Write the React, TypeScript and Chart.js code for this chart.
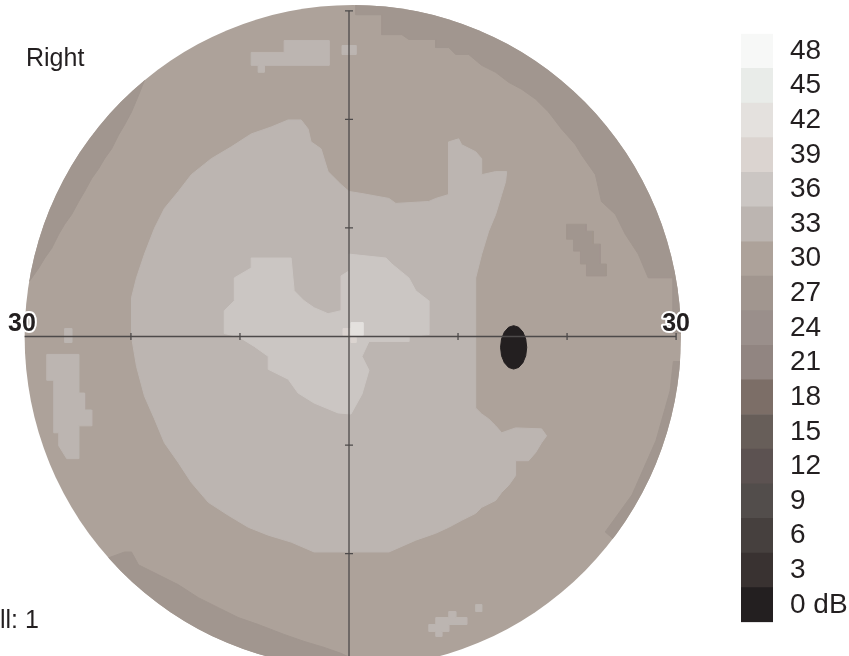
import { useEffect, useRef } from 'react';
import { Chart, registerables } from 'chart.js';

Chart.register(...registerables);

// ---------- legend / colour scale ----------
const LEGEND_LEVELS = [48, 45, 42, 39, 36, 33, 30, 27, 24, 21, 18, 15, 12, 9, 6, 3, 0];
const LEGEND_COLORS = [
  '#f7f8f7', '#e9ece9', '#e4e1de', '#dbd4d0', '#cbc6c3', '#bcb5b1', '#ada29a',
  '#a1968f', '#9a8f8b', '#918581', '#7c6e67', '#675e59', '#5c5251', '#524d4b',
  '#46403e', '#393231', '#231f20',
];
const LEGEND_UNIT = 'dB';

// ---------- texts ----------
const EYE_LABEL = 'Right';
const FOOT_LABEL = 'll: 1';
const AXIS_LIMIT = 30;
const AXIS_TICKS = [-30, -20, -10, 10, 20, 30];

// ---------- grey-scale regions (degrees of visual field) ----------
const FIELD: number[][] = [[-31, -31], [31, -31], [31, 31], [-31, 31]];

const BAND_UPPER_LEFT: number[][] = [
  [-18.76, 23.6], [-19.3, 22.23], [-19.95, 20.68], [-20.59, 19.49], [-21.13, 18.57],
  [-21.77, 17.29], [-22.42, 16.38], [-22.96, 15.46], [-23.6, 14.55], [-24.25, 13.36],
  [-24.79, 12.44], [-25.43, 11.25], [-26.08, 10.34], [-26.62, 9.42], [-27.26, 8.14],
  [-27.9, 7.23], [-28.45, 6.31], [-29.09, 5.4], [-29.64, 4.67], [-33, 4.2], [-31, 15],
  [-26, 24], [-20, 28],
];

const BAND_UPPER_RIGHT: number[][] = [
  [0.64, 31.5], [0.64, 29.64], [3.02, 29.64], [3.02, 27.81], [4.85, 27.81], [5.49, 27.36],
  [7.96, 27.36], [7.96, 26.62], [9.15, 26.62], [9.79, 25.98], [10.98, 25.98], [12.17, 24.98],
  [13.45, 24.34], [14.64, 23.42], [15.83, 22.78], [17.11, 21.87], [18.3, 20.68], [19.49, 19.12],
  [20.77, 17.66], [21.32, 16.74], [22.6, 14.91], [23.15, 12.44], [24.43, 11.25], [25.34, 9.42],
  [26.53, 7.59], [27.45, 5.4], [29.73, 5.4], [29.73, 0.27], [34, 0.27], [29.4, 17], [17, 29.4],
  [1.2, 34],
];

const STREAK_UPPER_RIGHT: number[][] = [
  [19.95, 10.34], [21.78, 10.34], [21.78, 9.7], [22.42, 9.7], [22.42, 8.51], [23.06, 8.51],
  [23.06, 6.68], [23.6, 6.68], [23.6, 5.58], [21.78, 5.58], [21.78, 6.68], [21.23, 6.68],
  [21.23, 7.87], [20.59, 7.87], [20.59, 8.97], [19.95, 8.97],
];

const BAND_RIGHT: number[][] = [
  [29.75, -2.3], [29.45, -5.0], [28.15, -9.6], [25.95, -14.6], [23.5, -18.0], [26.8, -20.9],
  [32, -11.6], [33.9, -2.4],
];

const BAND_LOWER_LEFT: number[][] = [
  [-22.6, -20.6], [-20.59, -19.85], [-19.95, -19.85], [-19.3, -21.04], [-17.47, -21.96],
  [-15.65, -22.87], [-13.82, -24.06], [-11.99, -24.98], [-10.16, -25.89], [-8.33, -26.53],
  [-5.95, -27.45], [-4.12, -28.09], [-2.29, -28.64], [-0.73, -29.19], [0.64, -29.83],
  [1, -34], [-12, -32], [-20, -28], [-24.5, -23],
];

const LIGHT_ZONE: number[][] = [
  [-5.58, 19.95], [-7.14, 19.3], [-8.97, 18.66], [-10.8, 17.47], [-12.63, 16.38], [-14.46, 14.91],
  [-15.65, 13.36], [-16.93, 11.8], [-17.84, 9.97], [-18.76, 7.59], [-19.49, 5.4], [-19.95, 3.57],
  [-19.95, 0], [-19.49, -2.74], [-18.76, -5.49], [-17.84, -7.59], [-16.93, -9.79], [-15.65, -11.62],
  [-14.46, -13.45], [-12.9, -15.28], [-11.07, -16.47], [-9.24, -17.57], [-7.41, -18.3],
  [-5.31, -18.94], [-3.2, -19.85], [3.66, -19.85], [6.13, -18.76], [7.96, -18.12], [9.15, -17.57],
  [10.34, -16.93], [11.62, -16.29], [12.17, -15.74], [13.45, -15.1], [14.0, -14.36],
  [14.64, -13.72], [15.28, -12.81], [15.28, -11.44], [16.47, -11.44], [17.11, -10.7],
  [17.66, -9.79], [18.12, -9.15], [17.66, -8.51], [15.28, -8.42], [14.0, -8.87], [13.45, -8.23],
  [12.81, -7.59], [12.17, -7.14], [11.62, -6.59], [11.62, 5.4], [12.17, 7.59], [12.81, 9.7],
  [13.45, 11.25], [14.0, 13.08], [14.36, 14.27], [14.46, 15.19], [13.45, 15.19], [12.17, 14.91],
  [12.17, 16.38], [11.62, 17.02], [10.34, 17.66], [10.06, 18.21], [9.15, 17.93], [9.15, 13.08],
  [7.96, 12.72], [7.32, 12.44], [4.3, 12.26], [3.66, 12.72], [1.19, 13.17], [0, 13.36],
  [-0.73, 14.0], [-1.92, 15.19], [-2.56, 17.29], [-3.48, 17.93], [-3.75, 19.12], [-4.39, 19.95],
];

const INNER_ZONE: number[][] = [
  [-8.97, 7.23], [-5.31, 7.23], [-5.03, 4.21], [-4.12, 3.29], [-3.2, 2.65], [-1.92, 2.1],
  [-0.73, 2.38], [-0.73, 5.58], [0, 6.04], [0, 7.59], [3.39, 7.23], [3.93, 6.68], [5.49, 5.4],
  [6.13, 4.21], [7.32, 3.29], [7.32, 0.18], [5.49, 0], [5.49, -0.46], [1.83, -0.46],
  [1.19, -1.83], [1.83, -3.11], [1.19, -5.31], [0.18, -7.14], [-1.01, -7.04], [-3.2, -6.13],
  [-4.67, -5.21], [-5.58, -3.93], [-7.41, -3.02], [-7.41, -1.83], [-8.69, -0.91], [-10.16, 0],
  [-11.44, 0.27], [-11.44, 2.38], [-10.52, 3.29], [-10.52, 5.4], [-8.97, 6.31],
];

const CENTRE_BRIGHT: number[][] = [[0.18, 1.28], [1.28, 1.28], [1.28, 0.09], [0.18, 0.09]];
const CENTRE_LEFT: number[][] = [[-0.55, 0.73], [0.18, 0.73], [0.18, 0.09], [-0.55, 0.09]];
const CENTRE_BELOW: number[][] = [[0.18, -0.09], [0.64, -0.09], [0.64, -0.55], [0.18, -0.55]];

const PATCH_TOP: number[][] = [
  [-8.97, 26.17], [-5.95, 26.17], [-5.95, 27.26], [-1.83, 27.26], [-1.83, 24.98], [-7.78, 24.98],
  [-7.78, 24.34], [-8.33, 24.34], [-8.33, 24.98], [-8.97, 24.98],
];
const PATCH_TOP_DOT: number[][] = [[-0.64, 26.81], [0.64, 26.81], [0.64, 25.98], [-0.64, 25.98]];
const PATCH_LEFT: number[][] = [
  [-27.72, -1.65], [-24.79, -1.65], [-24.79, -5.21], [-24.25, -5.21], [-24.25, -6.77],
  [-23.6, -6.77], [-23.6, -8.23], [-24.79, -8.23], [-24.79, -11.25], [-25.89, -11.25],
  [-26.62, -10.06], [-26.62, -8.87], [-27.08, -8.87], [-27.08, -4.03], [-27.72, -4.03],
];
const PATCH_LEFT_DOT: number[][] = [[-26.08, 0.73], [-25.43, 0.73], [-25.43, -0.55], [-26.08, -0.55]];
const PATCH_LOWER_RIGHT: number[][] = [
  [9.15, -25.34], [9.79, -25.34], [9.79, -25.89], [10.8, -25.89], [10.8, -26.53], [9.15, -26.53],
  [9.15, -27.17], [8.51, -27.17], [8.51, -27.63], [7.96, -27.63], [7.96, -27.17], [7.32, -27.17],
  [7.32, -26.53], [7.96, -26.53], [7.96, -25.89], [9.15, -25.89],
];
const PATCH_LOWER_RIGHT_DOT: number[][] = [[11.62, -24.7], [12.17, -24.7], [12.17, -25.34], [11.62, -25.34]];

const BLIND_SPOT: number[][] = [
  [16.3, -1.0], [16.21, -0.23], [15.95, 0.41], [15.56, 0.85], [15.1, 1.0], [14.64, 0.85],
  [14.25, 0.41], [13.99, -0.23], [13.9, -1.0], [13.99, -1.77], [14.25, -2.41], [14.64, -2.85],
  [15.1, -3.0], [15.56, -2.85], [15.95, -2.41], [16.21, -1.77],
];

// drawing order bottom -> top, with the dB level of each region
const LAYERS: { level: number; pts: number[][] }[] = [
  { level: 30, pts: FIELD },
  { level: 27, pts: BAND_UPPER_LEFT },
  { level: 27, pts: BAND_UPPER_RIGHT },
  { level: 27, pts: STREAK_UPPER_RIGHT },
  { level: 27, pts: BAND_RIGHT },
  { level: 27, pts: BAND_LOWER_LEFT },
  { level: 33, pts: PATCH_TOP },
  { level: 33, pts: PATCH_TOP_DOT },
  { level: 33, pts: PATCH_LEFT },
  { level: 33, pts: PATCH_LEFT_DOT },
  { level: 33, pts: PATCH_LOWER_RIGHT },
  { level: 33, pts: PATCH_LOWER_RIGHT_DOT },
  { level: 33, pts: LIGHT_ZONE },
  { level: 36, pts: INNER_ZONE },
  { level: 39, pts: CENTRE_LEFT },
  { level: 39, pts: CENTRE_BELOW },
  { level: 42, pts: CENTRE_BRIGHT },
  { level: 0, pts: BLIND_SPOT },
];

const FONT = '"Liberation Sans", Arial, Helvetica, sans-serif';
const AXIS_COLOR = '#4d4a4a';
const TEXT_COLOR = '#231f20';
const CLIP_CENTER = 0.35;
const CLIP_RX = 30.1;
const CLIP_RY = 30.55;
const SCALE_SPAN = 31;

const colorOf = (level: number) => LEGEND_COLORS[LEGEND_LEVELS.indexOf(level)];

export default function App() {
  const mapRef = useRef<HTMLCanvasElement>(null);
  const barRef = useRef<HTMLCanvasElement>(null);

  useEffect(() => {
    document.body.style.margin = '0';

    const regionSets = LAYERS.map((layer, i) => {
      const col = colorOf(layer.level);
      const data = [...layer.pts, layer.pts[0]].map(([x, y]) => ({ x, y }));
      return {
        label: 'region' + i,
        data,
        showLine: true,
        fill: 'shape',
        backgroundColor: col,
        borderColor: col,
        borderWidth: 1,
        pointRadius: 0,
        pointHoverRadius: 0,
        tension: 0,
        order: 1000 - i,
      };
    });

    const axisSets = [
      {
        label: 'hAxis',
        data: [{ x: -AXIS_LIMIT, y: 0 }, { x: AXIS_LIMIT, y: 0 }],
        showLine: true, fill: false, borderColor: AXIS_COLOR, borderWidth: 1.3,
        pointRadius: 0, pointHoverRadius: 0, order: 4,
      },
      {
        label: 'vAxis',
        data: [{ x: 0, y: -AXIS_LIMIT - 1 }, { x: 0, y: AXIS_LIMIT }],
        showLine: true, fill: false, borderColor: AXIS_COLOR, borderWidth: 1.3,
        pointRadius: 0, pointHoverRadius: 0, order: 3,
      },
      {
        label: 'hTicks',
        data: AXIS_TICKS.map((v) => ({ x: v, y: 0 })),
        showLine: false, pointStyle: 'line', rotation: 90, pointRadius: 3.5,
        pointHoverRadius: 3.5, borderColor: AXIS_COLOR, borderWidth: 1.3, order: 2,
      },
      {
        label: 'vTicks',
        data: AXIS_TICKS.map((v) => ({ x: 0, y: v })),
        showLine: false, pointStyle: 'line', rotation: 0, pointRadius: 4,
        pointHoverRadius: 4, borderColor: AXIS_COLOR, borderWidth: 1.3, order: 1,
      },
    ];

    const circleClip = {
      id: 'circleClip',
      beforeDatasetsDraw(chart: any) {
        const { ctx, scales } = chart;
        const cx = scales.x.getPixelForValue(CLIP_CENTER);
        const cy = scales.y.getPixelForValue(0);
        const rx = scales.x.getPixelForValue(CLIP_CENTER + CLIP_RX) - cx;
        const ry = cy - scales.y.getPixelForValue(CLIP_RY);
        ctx.save();
        ctx.beginPath();
        ctx.ellipse(cx, cy, rx, ry, 0, 0, Math.PI * 2);
        ctx.clip();
      },
      afterDatasetsDraw(chart: any) {
        chart.ctx.restore();
      },
    };

    const labels = {
      id: 'labels',
      afterDraw(chart: any) {
        const { ctx, scales } = chart;
        ctx.save();
        ctx.fillStyle = TEXT_COLOR;
        ctx.textBaseline = 'alphabetic';
        ctx.textAlign = 'left';
        ctx.font = `25px ${FONT}`;
        ctx.fillText(EYE_LABEL, 26, 66);
        ctx.fillText(FOOT_LABEL, 0, 628);
        const y0 = scales.y.getPixelForValue(0);
        ctx.font = `bold 25px ${FONT}`;
        ctx.textAlign = 'center';
        ctx.lineJoin = 'round';
        ctx.lineWidth = 4;
        ctx.strokeStyle = '#ffffff';
        [-AXIS_LIMIT, AXIS_LIMIT].forEach((v) => {
          const px = scales.x.getPixelForValue(v);
          ctx.strokeText(String(AXIS_LIMIT), px, y0 - 6);
          ctx.fillText(String(AXIS_LIMIT), px, y0 - 6);
        });
        ctx.restore();
      },
    };

    const map = new Chart(mapRef.current as HTMLCanvasElement, {
      type: 'scatter',
      data: { datasets: [...regionSets, ...axisSets] as any },
      options: {
        animation: false,
        responsive: false,
        events: [],
        layout: { autoPadding: false, padding: { left: 11, right: 13, top: 0, bottom: 0 } },
        plugins: { legend: { display: false }, tooltip: { enabled: false } },
        scales: {
          x: { type: 'linear', min: -SCALE_SPAN, max: SCALE_SPAN, display: false },
          y: { type: 'linear', min: -SCALE_SPAN, max: SCALE_SPAN, display: false },
        },
      } as any,
      plugins: [circleClip, labels],
    });

    const bar = new Chart(barRef.current as HTMLCanvasElement, {
      type: 'bar',
      data: {
        labels: LEGEND_LEVELS.map((l) => (l === 0 ? `0 ${LEGEND_UNIT}` : String(l))),
        datasets: [
          {
            data: LEGEND_LEVELS.map(() => 1),
            backgroundColor: LEGEND_COLORS,
            borderWidth: 0,
            barPercentage: 1,
            categoryPercentage: 1,
          },
        ],
      },
      options: {
        indexAxis: 'y',
        animation: false,
        responsive: false,
        events: [],
        layout: { padding: { left: 41, right: 0, top: 15, bottom: 17 } },
        plugins: { legend: { display: false }, tooltip: { enabled: false } },
        scales: {
          x: { display: false, min: 0, max: 1 },
          y: {
            position: 'right',
            grid: { display: false, drawTicks: false },
            border: { display: false },
            ticks: { color: TEXT_COLOR, padding: 17, font: { size: 28, family: FONT } },
            afterFit: (s: any) => {
              s.width = 76;
            },
          },
        },
      } as any,
    });

    return () => {
      map.destroy();
      bar.destroy();
    };
  }, []);

  return (
    <div
      style={{
        position: 'fixed', left: 0, top: 0, width: 849, height: 656,
        overflow: 'hidden', background: '#ffffff',
      }}
    >
      <div style={{ position: 'absolute', left: 0, top: 0, width: 700, height: 673 }}>
        <canvas ref={mapRef} width={700} height={673} />
      </div>
      <div style={{ position: 'absolute', left: 700, top: 0, width: 149, height: 656 }}>
        <canvas ref={barRef} width={149} height={656} />
      </div>
    </div>
  );
}
